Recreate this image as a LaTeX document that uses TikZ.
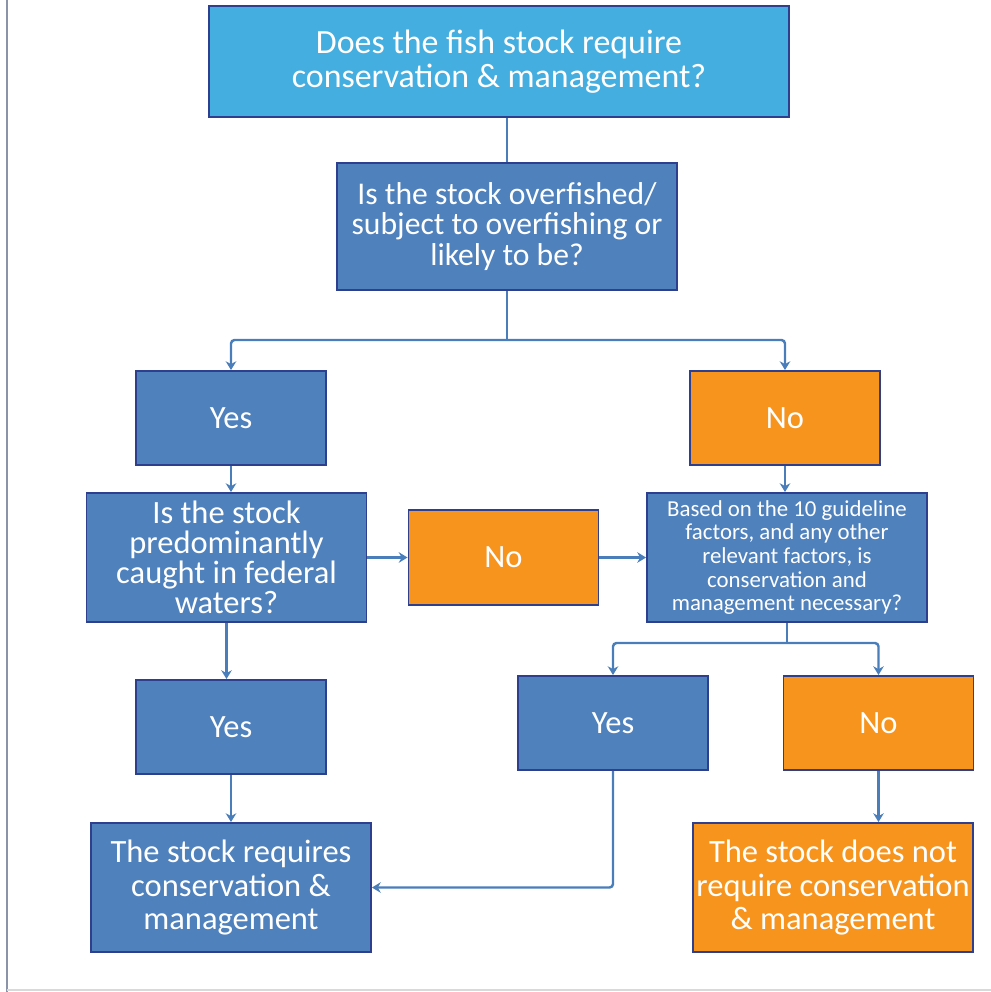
\documentclass[tikz,border=0pt]{standalone}
\usepackage{fontspec}
\setmainfont{Carlito}
\usetikzlibrary{arrows.meta}

\definecolor{boxblue}{HTML}{4F81BD}
\definecolor{topblue}{HTML}{45AEE0}
\definecolor{boxorange}{HTML}{F7941E}
\definecolor{boxedge}{HTML}{2E3F8E}
\definecolor{linkblue}{HTML}{4A7EBB}
\definecolor{framegray}{HTML}{8A93A8}

\tikzset{
  box/.style={draw=boxedge, line width=1.1pt, fill=boxblue, text=white,
    align=center, inner sep=1pt},
  orangebox/.style={box, fill=boxorange},
  answer/.style={minimum width=3.8cm, minimum height=1.88cm,
    font=\fontsize{18.5}{20}\selectfont},
  question/.style={minimum width=5.6cm, minimum height=2.58cm,
    font=\fontsize{18.5}{17}\selectfont},
  link/.style={draw=linkblue, line width=1.4pt, rounded corners=2pt},
  arr/.style={link, -{Stealth[length=5pt,width=6pt]}}
}

\begin{document}
\begin{tikzpicture}[x=0.02cm,y=-0.02cm]
\useasboundingbox (0,0) rectangle (991,992);
% Rahmen links und unten
\draw[framegray, line width=1.2pt] (7,0) -- (7,992);
\draw[black!15, line width=0.8pt] (7,990) -- (991,990);

% oberste Frage:
\node[box, fill=topblue, minimum width=11.6cm, minimum height=2.22cm,
  font=\fontsize{19.3}{19}\selectfont] (top) at (499,61.5)
  {Does the fish stock require\\conservation \& management?};
\node[box, minimum width=6.8cm, minimum height=2.54cm,
  font=\fontsize{18}{17.6}\selectfont] (over) at (507,226.5)
  {Is the stock overfished/\\subject to overfishing or\\likely to be?};

% erste Verzweigung:
\node[box, answer] (yesA) at (231,418) {Yes};
\node[orangebox, answer] (noA) at (785,418) {No};

% zweite Ebene:
\node[box, question] (federal) at (226.5,557.5)
  {Is the stock\\predominantly\\caught in federal\\waters?};
\node[orangebox, answer, minimum height=1.9cm] (noB) at (503.5,557.5) {No};
\node[box, question, font=\fontsize{13}{13.5}\selectfont] (factors) at (787,557.5)
  {Based on the 10 guideline\\factors, and any other\\relevant factors, is\\conservation and\\management necessary?};

% dritte Ebene:
\node[box, answer] (yesB) at (231,727) {Yes};
\node[box, answer] (yesC) at (613,723) {Yes};
\node[orangebox, answer] (noC) at (878.5,723) {No};

% Ergebnisse:
\node[box, question, font=\fontsize{18.5}{19.3}\selectfont] (reqA) at (231,887.5)
  {The stock requires\\conservation \&\\management};
\node[orangebox, question, font=\fontsize{18.5}{19.3}\selectfont] (reqB) at (833,887.5)
  {The stock does not\\require conservation\\\& management};

% Verbindungen:
\draw[link] (over.north) -- (over.north |- top.south);
\coordinate (splitA) at (over.south |- 0,340);
\draw[link] (over.south) -- (splitA);
\draw[arr] (splitA) -| (yesA.north);
\draw[arr] (splitA) -| (noA.north);
\draw[arr] (yesA.south) -- (yesA.south |- federal.north);
\draw[arr] (noA.south) -- (noA.south |- factors.north);
\draw[arr] (federal.east) -- (noB.west);
\draw[arr] (noB.east) -- (factors.west);
\draw[arr] (federal.south) -- (federal.south |- yesB.north);
\coordinate (splitB) at (factors.south |- 0,643);
\draw[link] (factors.south) -- (splitB);
\draw[arr] (splitB) -| (yesC.north);
\draw[arr] (splitB) -| (noC.north);
\draw[arr] (yesB.south) -- (yesB.south |- reqA.north);
\draw[arr] (yesC.south) |- (reqA.east);
\draw[arr] (noC.south) -- (noC.south |- reqB.north);
\end{tikzpicture}
\end{document}
